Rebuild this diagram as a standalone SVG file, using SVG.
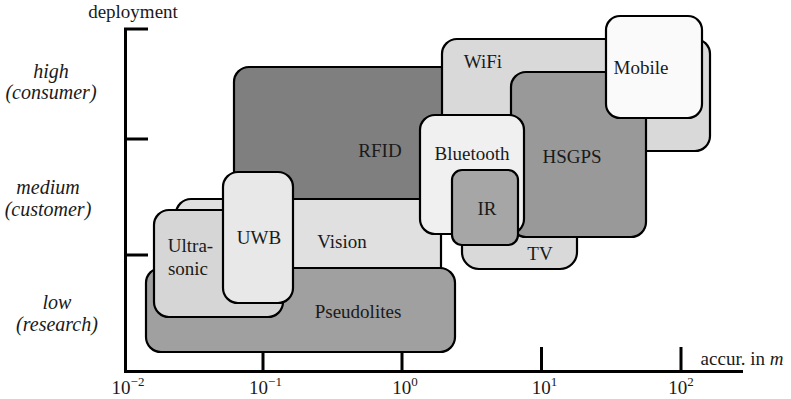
<svg xmlns="http://www.w3.org/2000/svg" width="791" height="399" viewBox="0 0 791 399">
<style>
.box{stroke:#000;stroke-width:2.2}
.ax{stroke:#000;stroke-width:3;fill:none}
</style>
<rect width="791" height="399" fill="#fff"/>
<g id="axes">
<path class="ax" d="M148,29 H125.5 V371.5 H743"/>
<path class="ax" d="M125.5,139 H148 M125.5,255 H148"/>
<path class="ax" d="M263,347 V371 M402,347 V371 M541.5,347 V371 M681,347 V371"/>
<g font-family="Liberation Serif" font-size="19" fill="#1a1a1a" text-anchor="middle">
<text x="133" y="18">deployment</text>
<text x="128" y="394">10<tspan font-size="13" dy="-8">−2</tspan></text>
<text x="265.5" y="394">10<tspan font-size="13" dy="-8">−1</tspan></text>
<text x="405" y="394">10<tspan font-size="13" dy="-8">0</tspan></text>
<text x="544.5" y="394">10<tspan font-size="13" dy="-8">1</tspan></text>
<text x="681" y="394">10<tspan font-size="13" dy="-8">2</tspan></text>
<text x="742" y="365">accur. in <tspan font-style="italic">m</tspan></text>
</g>
<g font-family="Liberation Serif" font-size="20" font-style="italic" fill="#1a1a1a" text-anchor="middle">
<text x="51" y="78">high</text>
<text x="51" y="99">(consumer)</text>
<text x="48" y="194">medium</text>
<text x="48" y="216">(customer)</text>
<text x="57" y="309">low</text>
<text x="57" y="331">(research)</text>
</g>
</g>
<g id="connectors"/>
<g id="nodes" font-family="Liberation Serif" font-size="19" fill="#1a1a1a" text-anchor="middle">
<g id="RFID">
<rect class="box" x="234" y="67" width="226" height="163" rx="15" fill="#7f7f7f"/>
<text x="380" y="157">RFID</text>
</g>
<g id="Vision">
<rect class="box" x="176" y="199" width="265" height="100" rx="15" fill="#e0e0e0"/>
<text x="342" y="248">Vision</text>
</g>
<g id="Pseudolites">
<rect class="box" x="146" y="268" width="309" height="84" rx="15" fill="#a0a0a0"/>
<text x="358" y="318">Pseudolites</text>
</g>
<g id="Ultrasonic">
<rect class="box" x="154" y="210" width="129" height="107" rx="15" fill="#d6d6d6"/>
<text x="190.5" y="252">Ultra-</text>
<text x="188" y="275">sonic</text>
</g>
<g id="UWB">
<rect class="box" x="223" y="172" width="70" height="131" rx="15" fill="#e8e8e8"/>
<text x="259" y="244">UWB</text>
</g>
<g id="WiFi">
<rect class="box" x="442" y="39" width="268" height="112" rx="15" fill="#d9d9d9"/>
<text x="483" y="68">WiFi</text>
</g>
<g id="TV">
<rect class="box" x="462" y="200" width="115" height="69" rx="17" fill="#d9d9d9"/>
<text x="540" y="260">TV</text>
</g>
<g id="HSGPS">
<rect class="box" x="511" y="72" width="135" height="165" rx="15" fill="#999999"/>
<text x="572" y="163">HSGPS</text>
</g>
<g id="Mobile">
<rect class="box" x="606" y="16" width="96" height="102" rx="14" fill="#fafafa"/>
<text x="641" y="74">Mobile</text>
</g>
<g id="Bluetooth">
<rect class="box" x="420" y="115" width="104" height="119" rx="15" fill="#f0f0f0"/>
<text x="472" y="160">Bluetooth</text>
</g>
<g id="IR">
<rect class="box" x="452" y="170" width="66" height="75" rx="10" fill="#a6a6a6"/>
<text x="487" y="215">IR</text>
</g>
</g>
</svg>
